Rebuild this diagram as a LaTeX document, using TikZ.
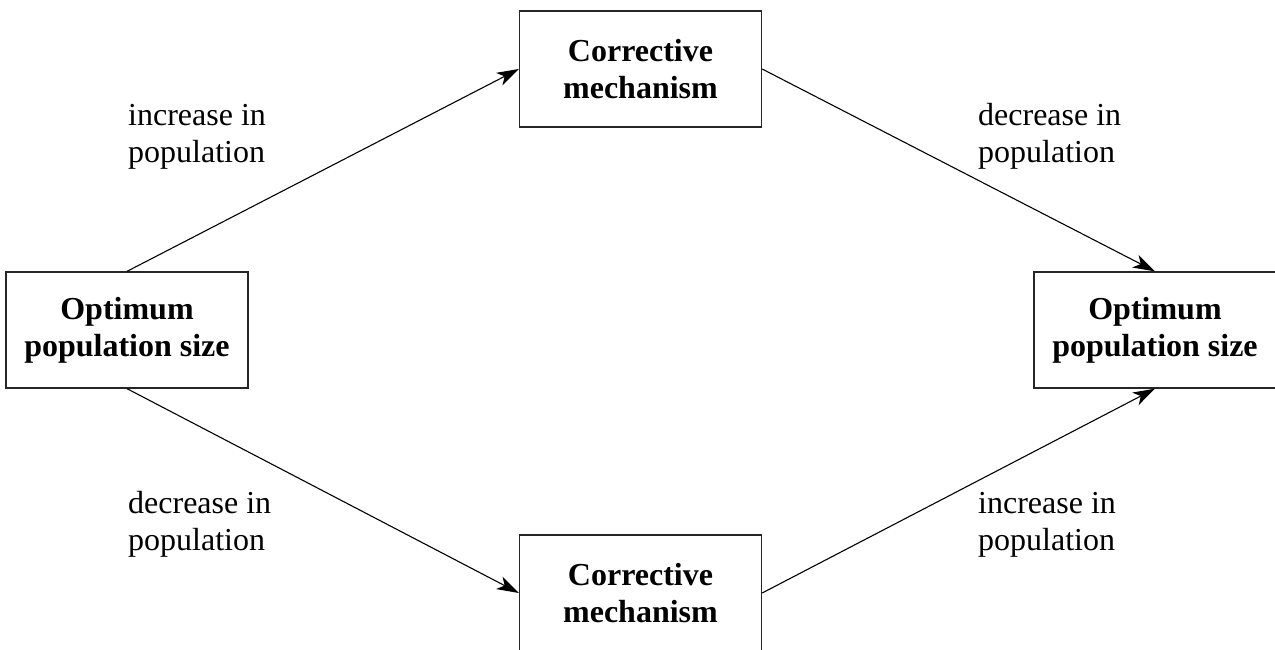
\documentclass[tikz,border=0pt]{standalone}
\usepackage{fontspec}
\setmainfont{Liberation Serif}
\usetikzlibrary{arrows.meta}
\begin{document}
\begin{tikzpicture}[x=1pt,y=-1pt,
  box/.style={draw=black!85, line width=1.3pt, minimum width=242pt, minimum height=116pt,
    inner sep=0pt, align=center, font=\fontsize{32}{37}\selectfont\bfseries},
  lbl/.style={inner sep=0pt, align=left, anchor=base west, font=\fontsize{32}{37}\selectfont},
  conn/.style={line width=1.1pt, -{Stealth[length=22pt,width=14pt,inset=6pt]}}]
\useasboundingbox (0,0) rectangle (1275,649);
\clip (0,0) rectangle (1275,649);
\node[box] (L) at (127,330) {Optimum\\population size};
\node[box] (T) at (640.5,69) {Corrective\\mechanism};
\node[box] (B) at (640.5,593) {Corrective\\mechanism};
\node[box] (R) at (1155,330) {Optimum\\population size};
\draw[conn] (L.north) -- (T.west);
\draw[conn] (T.east) -- (R.north);
\draw[conn] (L.south) -- (B.west);
\draw[conn] (B.east) -- (R.south);
\node[lbl] (l1) at (128,162) {increase in\\population};
\node[lbl] (l2) at (978,162) {decrease in\\population};
\node[lbl] (l3) at (128,550) {decrease in\\population};
\node[lbl] (l4) at (978,550) {increase in\\population};
\end{tikzpicture}
\end{document}
